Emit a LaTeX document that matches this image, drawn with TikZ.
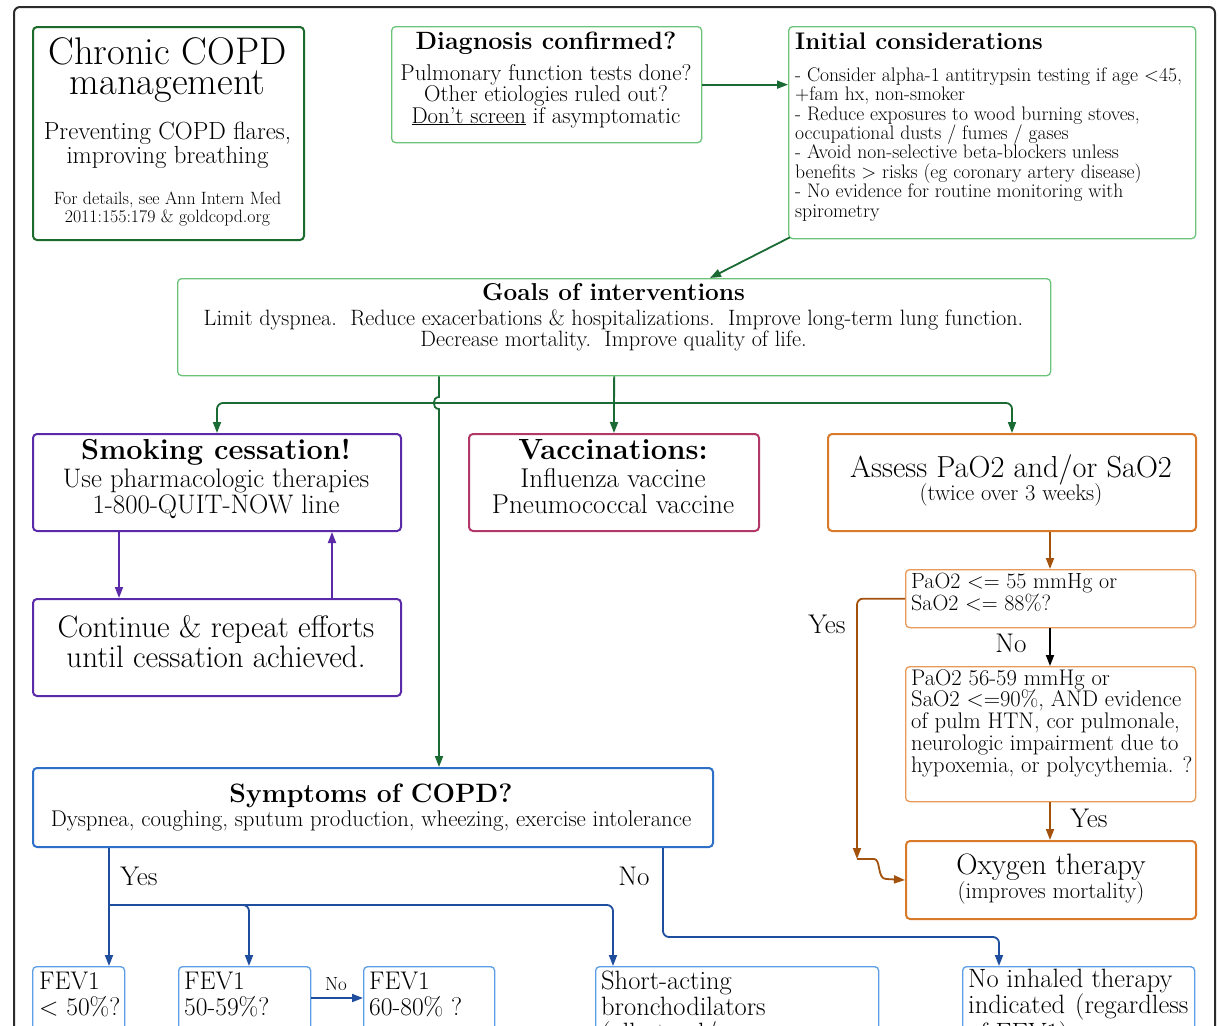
\documentclass[tikz,border=0pt]{standalone}
\usetikzlibrary{arrows.meta,calc}

\definecolor{framegray}{HTML}{2B2B2B}
\definecolor{titlegreen}{HTML}{1D6B2A}
\definecolor{lightgreen}{HTML}{6CC47A}
\definecolor{darkgreen}{HTML}{1A6B33}
\definecolor{quitpurple}{HTML}{5B2AA8}
\definecolor{vaccred}{HTML}{B2386A}
\definecolor{oxyorange}{HTML}{D97A2B}
\definecolor{paleorange}{HTML}{E89A5A}
\definecolor{oxybrown}{HTML}{A3520D}
\definecolor{sympblue}{HTML}{2E6FC7}
\definecolor{arrowblue}{HTML}{1F4E9E}
\definecolor{paleblue}{HTML}{5D9EE6}

\newcommand\setfs[2]{\fontsize{#1}{#2}\selectfont}

% multi-line texts are placed by the baseline of their last line
\tikzset{
  box/.style={rectangle, rounded corners=4pt, inner sep=0pt, anchor=north west},
  thickbox/.style={box, line width=2pt},
  thinbox/.style={box, line width=1.3pt},
  txt/.style={inner sep=0pt, anchor=base, align=center},
  ltxt/.style={inner sep=0pt, anchor=base west, align=left},
  tip/.style={-{Triangle[length=11pt,width=8pt]}},
  garrow/.style={draw=darkgreen, line width=1.8pt, tip},
  parrow/.style={draw=quitpurple, line width=1.8pt, tip},
  brarrow/.style={draw=oxybrown, line width=1.8pt, tip},
  karrow/.style={draw=black, line width=1.8pt, tip},
  barrow/.style={draw=arrowblue, line width=1.8pt, tip},
  lbl/.style={inner sep=0pt, anchor=base, font=\setfs{27}{27}},
}

\begin{document}
\begin{tikzpicture}[x=1pt, y=-1pt]
\useasboundingbox (0,0) rectangle (1219,1026);
\clip (0,0) rectangle (1219,1026);
\fill[white] (0,0) rectangle (1219,1026);

% outer frame
\node[box, draw=framegray, line width=2pt, rounded corners=6pt,
      minimum width=1201, minimum height=1100] (frame) at (13,6) {};

% ---------- boxes ----------
\node[thickbox, draw=titlegreen, minimum width=271, minimum height=213] (title) at (32,26) {};
\node[thinbox, draw=lightgreen, minimum width=310, minimum height=116] (diag) at (391,26) {};
\node[thinbox, draw=lightgreen, minimum width=407, minimum height=212] (init) at (788,26) {};
\node[thinbox, draw=lightgreen, minimum width=873, minimum height=97] (goals) at (177,278) {};

\node[thickbox, draw=quitpurple, minimum width=368, minimum height=97] (smoke) at (32,433) {};
\node[thickbox, draw=quitpurple, minimum width=368, minimum height=97] (cont) at (32,598) {};
\node[thickbox, draw=vaccred, minimum width=290, minimum height=97] (vacc) at (468,433) {};
\node[thickbox, draw=oxyorange, minimum width=368, minimum height=97] (assess) at (827,433) {};

\node[thinbox, draw=paleorange, minimum width=290, minimum height=58] (pa1) at (905,569) {};
\node[thinbox, draw=paleorange, minimum width=290, minimum height=135] (pa2) at (905,666) {};
\node[thickbox, draw=oxyorange, minimum width=290, minimum height=78] (oxy) at (905,840) {};

\node[thickbox, draw=sympblue, minimum width=680, minimum height=79] (symp) at (32,767) {};

\node[thinbox, draw=paleblue, minimum width=92, minimum height=100] (fev1) at (32,966) {};
\node[thinbox, draw=paleblue, minimum width=132, minimum height=100] (fev2) at (178,966) {};
\node[thinbox, draw=paleblue, minimum width=131, minimum height=100] (fev3) at (363,966) {};
\node[thinbox, draw=paleblue, minimum width=283, minimum height=100] (sab) at (595,966) {};
\node[thinbox, draw=paleblue, minimum width=232, minimum height=100] (noinh) at (962,966) {};

% ---------- texts ----------
\node[txt, font=\setfs{38.5}{30.5}] (titleA) at (167.5,94.5) {Chronic COPD\\management};
\node[txt, font=\setfs{24.8}{23.5}] (titleB) at (167.5,163) {Preventing COPD flares,\\improving breathing};
\node[txt, font=\setfs{17.8}{18}] (titleC) at (167.5,222) {For details, see Ann Intern Med\\2011:155:179 \& goldcopd.org};

\node[txt, font=\bfseries\setfs{25}{25}] (diagA) at (546,49) {Diagnosis confirmed?};
\node[txt, font=\setfs{22.8}{21.5}] (diagB) at (546,123) {Pulmonary function tests done?\\Other etiologies ruled out?\\\underline{Don't screen} if asymptomatic};

\node[ltxt, font=\bfseries\setfs{24}{24}] (initA) at (795,49) {Initial considerations};
\node[ltxt, font=\setfs{19.6}{19.4}] (initB) at (795,217) {- Consider alpha-1 antitrypsin testing if age <45,\\+fam hx, non-smoker\\- Reduce exposures to wood burning stoves,\\occupational dusts / fumes / gases\\- Avoid non-selective beta-blockers unless\\benefits > risks (eg coronary artery disease)\\- No evidence for routine monitoring with\\spirometry};

\node[txt, font=\bfseries\setfs{24.4}{24}] (goalsA) at (613.5,300) {Goals of interventions};
\node[txt, font=\setfs{22.2}{21}] (goalsB) at (613.5,346) {Limit dyspnea.\ \ Reduce exacerbations \& hospitalizations.\ \ Improve long-term lung function.\\Decrease mortality.\ \ Improve quality of life.};

\node[txt, font=\bfseries\setfs{28.9}{28}] (smokeA) at (216,459) {Smoking cessation!};
\node[txt, font=\setfs{26.8}{26}] (smokeB) at (216,513) {Use pharmacologic therapies\\1-800-QUIT-NOW line};
\node[txt, font=\setfs{31}{30}] (contA) at (216,667) {Continue \& repeat efforts\\until cessation achieved.};

\node[txt, font=\bfseries\setfs{29.2}{28}] (vaccA) at (613,459) {Vaccinations:};
\node[txt, font=\setfs{27.2}{26}] (vaccB) at (613,513) {Influenza vaccine\\Pneumococcal vaccine};

\node[txt, font=\setfs{30.4}{30}] (assessA) at (1011,477) {Assess PaO2 and/or SaO2};
\node[txt, font=\setfs{22.6}{22}] (assessB) at (1011,500) {(twice over 3 weeks)};

\node[ltxt, font=\setfs{22}{22}] (pa1T) at (911,610) {PaO2 <= 55 mmHg or\\SaO2 <= 88\%?};
\node[ltxt, font=\setfs{22.6}{21.7}] (pa2T) at (911,772) {PaO2 56-59 mmHg or\\SaO2 <=90\%, AND evidence\\of pulm HTN, cor pulmonale,\\neurologic impairment due to\\hypoxemia, or polycythemia. ?};

\node[txt, font=\setfs{29.5}{28}] (oxyA) at (1051,874) {Oxygen therapy};
\node[txt, font=\setfs{22.6}{22}] (oxyB) at (1051,898) {(improves mortality)};

\node[txt, font=\bfseries\setfs{26.6}{26}] (sympA) at (371,802) {Symptoms of COPD?};
\node[txt, font=\setfs{22.7}{22}] (sympB) at (371,826) {Dyspnea, coughing, sputum production, wheezing, exercise intolerance};

\node[ltxt, font=\setfs{25.5}{26}] (fev1T) at (39,1015) {FEV1\\< 50\%?};
\node[ltxt, font=\setfs{25.5}{26}] (fev2T) at (184,1015) {FEV1\\50-59\%?};
\node[ltxt, font=\setfs{25.5}{26}] (fev3T) at (369,1015) {FEV1\\60-80\% ?};
\node[ltxt, font=\setfs{26.5}{26}] (sabT) at (601,1041) {Short-acting\\bronchodilators\\(albuterol/};
\node[ltxt, font=\setfs{26.5}{26}] (noinhT) at (968,1041) {No inhaled therapy\\indicated\ \hspace{2pt}(regardless\\of FEV1)};

% ---------- connectors ----------
\draw[garrow] (diag.east) -- (diag.east -| init.west);
\draw[garrow] ($(init.south west)+(2,-2)$) -- ($(goals.north west)+(533,0)$);

\coordinate (gbus) at (613.5,403);
\draw[garrow, rounded corners=6pt] (gbus) -| (smoke.north);
\draw[garrow, rounded corners=6pt] (gbus) -| (assess.north);
\draw[garrow] (goals.south) -- (vacc.north);
\draw[garrow] ($(goals.south west)+(262,0)$) -- (439,397)
  .. controls (432,397) and (432,409) .. (439,409) -- ($(symp.north west)+(407,0)$);

\draw[parrow] ($(smoke.south west)+(87,0)$) -- ($(cont.north west)+(87,0)$);
\draw[parrow] ($(cont.north west)+(300,0)$) -- ($(smoke.south west)+(300,0)$);

\draw[brarrow] ($(assess.south west)+(223,0)$) -- ($(pa1.north west)+(145,0)$);
\draw[karrow] ($(pa1.south west)+(145,0)$) -- ($(pa2.north west)+(145,0)$);
\draw[brarrow] ($(pa2.south west)+(145,0)$) -- ($(oxy.north west)+(145,0)$);
\coordinate (ybend) at (857,859);
\draw[brarrow, rounded corners=6pt] (pa1.west) -| (ybend);
\draw[brarrow] (ybend) -- (874,859) .. controls (881,859) and (877,879) .. (886,879) -- (oxy.west);

\coordinate (ybus) at (109,905);
\draw[barrow] ($(symp.south west)+(77,0)$) -- ($(fev1.north west)+(77,0)$);
\draw[barrow, rounded corners=6pt] (ybus) -| ($(fev2.north west)+(71,0)$);
\draw[barrow, rounded corners=6pt] (ybus) -| ($(sab.north west)+(18,0)$);
\coordinate (nbus) at (820,937);
\draw[barrow, rounded corners=6pt] ($(symp.south west)+(631,0)$) |- (nbus) -| ($(noinh.north west)+(37,0)$);
\draw[barrow] ($(fev2.north east)+(0,32)$) -- ($(fev3.north west)+(0,32)$);

% ---------- branch labels ----------
\node[lbl] (yesA) at (827,633) {Yes};
\node[lbl] (noA) at (1011,652) {No};
\node[lbl] (yesB) at (1089,827) {Yes};
\node[lbl] (yesC) at (139,885) {Yes};
\node[lbl] (noB) at (634,885) {No};
\node[lbl, font=\setfs{19}{19}] (noC) at (336,990) {No};
\end{tikzpicture}
\end{document}
